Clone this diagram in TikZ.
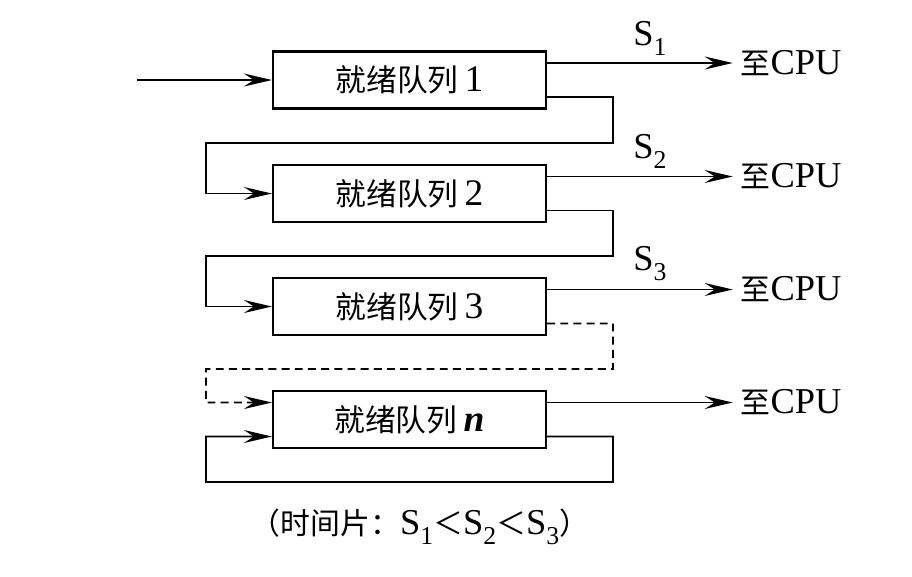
\documentclass[tikz,border=0pt]{standalone}
\usepackage{fontspec}
\setmainfont{Liberation Serif}[Scale=1.22]
\newfontfamily\cjk{Noto Sans CJK SC}
\usetikzlibrary{arrows.meta}

\newcommand{\Ssub}[1]{S\raisebox{-0.6ex}{\fontsize{12}{12}\selectfont #1}}

\begin{document}
\begin{tikzpicture}[x=0.02cm, y=-0.02cm, line width=1pt,
		queue/.style={draw, line width=1.3pt, minimum width=5.46cm, minimum height=1.14cm, inner sep=0pt, font=\fontsize{17.5}{20}\selectfont},
		flow/.style={-{Stealth[length=5.6mm, width=2.6mm, inset=2mm]}},
		lbl/.style={font=\fontsize{17}{20}\selectfont, inner sep=4pt}]
	\useasboundingbox (0,0) rectangle (912,576);
	\node[queue] (q1) at (409.5,80) {{\cjk 就绪队列}\,1};
	\node[queue] (q2) at (409.5,193.5) {{\cjk 就绪队列}\,2};
	\node[queue] (q3) at (409.5,306.5) {{\cjk 就绪队列}\,3};
	\node[queue] (qn) at (409.5,419.5) {{\cjk 就绪队列}\,\textbf{\textit{n}}};
	\node[lbl] (cpu1) at (791,63) {{\cjk 至}CPU};
	\node[lbl] (cpu2) at (791,176.5) {{\cjk 至}CPU};
	\node[lbl] (cpu3) at (791,289.5) {{\cjk 至}CPU};
	\node[lbl] (cpu4) at (791,402.5) {{\cjk 至}CPU};
	\node[lbl] (s1) at (650,38) {\Ssub{1}};
	\node[lbl] (s2) at (650,151) {\Ssub{2}};
	\node[lbl] (s3) at (650,264) {\Ssub{3}};
	\coordinate (in) at (137,80);
	% to the CPU
	\draw[flow] (in) -- (q1);
	\draw[flow] (q1.east |- cpu1) -- (cpu1);
	\draw[flow] (q2.east |- cpu2) -- (cpu2);
	\draw[flow] (q3.east |- cpu3) -- (cpu3);
	\draw[flow] (qn.east |- cpu4) -- (cpu4);
	% down to the next queue
	\draw[flow] ([yshift=-0.34cm]q1.east) -| (613,143) -| (206,193.5) -- (q2);
	\draw[flow] ([yshift=-0.34cm]q2.east) -| (613,256) -| (206,306.5) -- (q3);
	\draw[flow, dash pattern=on 4.5pt off 3pt] ([yshift=-0.34cm]q3.east) -| (613,369) -| (206,402.5) -- ([yshift=0.34cm]qn.west);
	\draw[flow] ([yshift=-0.34cm]qn.east) -| (613,482) -| (206,436.5) -- ([yshift=-0.34cm]qn.west);
	\node[lbl] (note) at (420,527) {{\cjk （时间片：}\Ssub{1}{\cjk ＜}\Ssub{2}{\cjk ＜}\Ssub{3}{\cjk ）}};
\end{tikzpicture}
\end{document}
